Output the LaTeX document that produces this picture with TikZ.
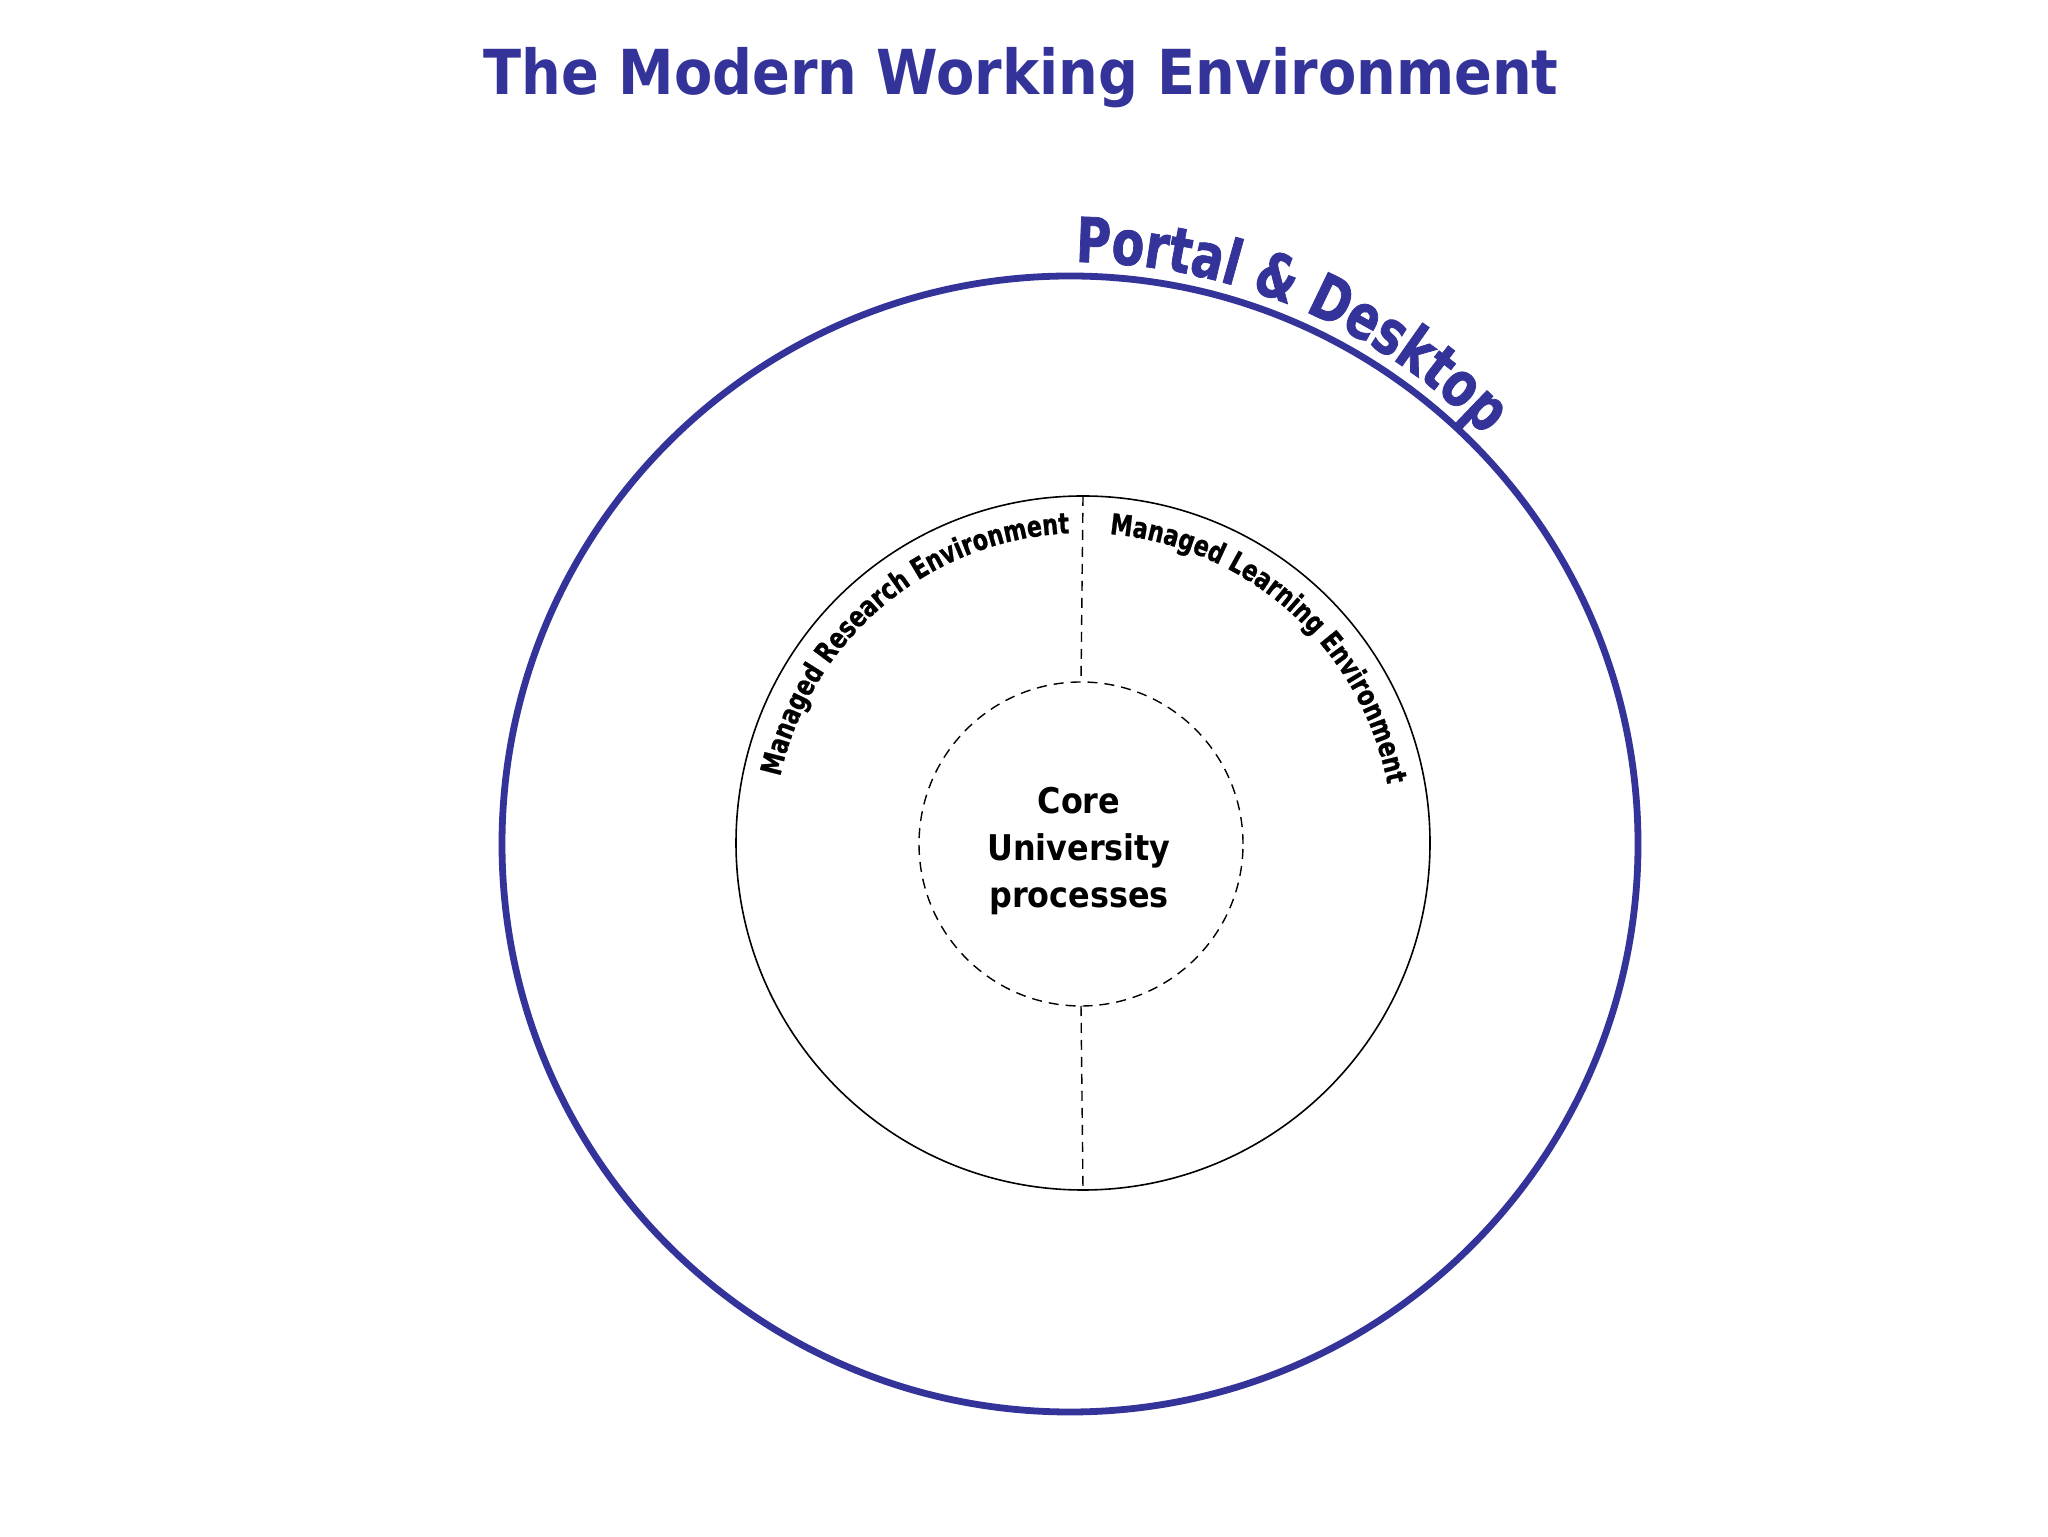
\documentclass[tikz,border=0pt]{standalone}
\usepackage{fontspec}
\setmainfont{DejaVu Sans Condensed}
\newfontfamily\portalfont[FakeStretch=0.85,FakeBold=1.2]{DejaVu Sans Condensed Bold}
\newfontfamily\mgdfont[FakeStretch=0.86,FakeBold=0.8]{DejaVu Sans Condensed Bold}
\usetikzlibrary{decorations.text}
\definecolor{pblue}{RGB}{51,51,153}
\begin{document}
\begin{tikzpicture}[x=0.5pt,y=0.5pt,
  ring/.style={circle, draw, inner sep=0pt, outer sep=0pt},
  outerring/.style={ring, draw=pblue, line width=3.4pt, minimum size=568pt},
  innerring/.style={ring, line width=0.8pt, minimum size=347pt},
  corering/.style={ring, line width=0.7pt, dash pattern=on 5pt off 3.5pt, minimum size=162pt},
  divider/.style={line width=0.7pt, dash pattern=on 5pt off 3.5pt},
  titletext/.style={font=\bfseries\fontsize{31}{36}\selectfont, text=pblue, inner sep=0pt},
  coretext/.style={font=\bfseries\fontsize{17.7}{23.5}\selectfont, align=center, inner sep=0pt}
]
\useasboundingbox (0,0) rectangle (2048,1536);
\fill[white] (0,0) rectangle (2048,1536);

\node[titletext, anchor=base] (title) at (1021,1441) {The Modern Working Environment};

\node[outerring] (outer) at (1070,692) {};
\node[innerring] (inner) at (1083,693) {};
\node[corering] (core) at (1081,692) {};

\draw[divider] (inner.north) -- (core.north);
\draw[divider] (core.south) -- (inner.south);

\node[coretext] (coretxt) at (1079,685) {Core\\University\\processes};

\path[decorate, decoration={text along path, text align=center,
  text={|\mgdfont\fontsize{14.4}{17}\selectfont|Managed Research Environment}}]
  (inner.center) ++(167.8:310) arc[start angle=167.8, end angle=92.4, radius=310];

\path[decorate, decoration={text along path, text align=center,
  text={|\mgdfont\fontsize{14.4}{17}\selectfont|Managed Learning Environment}}]
  (inner.center) ++(86.9:310) arc[start angle=86.9, end angle=9.1, radius=310];

\path[decorate, decoration={text along path, text align=center,
  text={|\portalfont\fontsize{31}{36}\selectfont\color{pblue}|Portal {\&} Desktop}}]
  (outer.center) ++(88.7:582) arc[start angle=88.7, end angle=45.3, radius=582];
\end{tikzpicture}
\end{document}
